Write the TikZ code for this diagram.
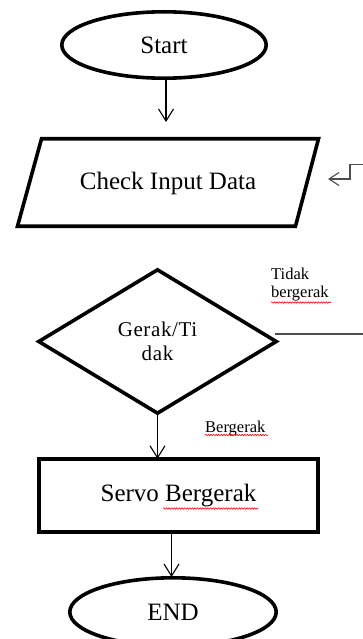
\documentclass[tikz,border=0pt]{standalone}
\usepackage{fontspec}
\setmainfont{Liberation Serif}
\usetikzlibrary{shapes.geometric,arrows.meta,decorations.pathmorphing,calc}
\begin{document}
\begin{tikzpicture}[x=1pt,y=-1pt,
  thickline/.style={line width=3.6pt},
  term/.style={ellipse,draw,thickline,inner sep=0pt,outer sep=0pt,font=\fontsize{25}{28}\selectfont},
  procbox/.style={rectangle,draw,thickline,inner sep=0pt,outer sep=0pt,font=\fontsize{25}{28}\selectfont},
  decbox/.style={diamond,draw,thickline,inner sep=0pt,outer sep=0pt,align=center,
    font=\fontsize{21}{24}\selectfont\addfontfeature{LetterSpace=3}},
  conn/.style={line width=1.1pt,-{Straight Barb[length=12pt,width=15pt]}},
  fbline/.style={line width=1.1pt,black!70,-{Straight Barb[length=10pt,width=13pt]}},
  lbl/.style={font=\fontsize{16.5}{18}\selectfont,align=left,inner sep=0pt},
  squig/.style={red,line width=0.6pt,decorate,decoration={snake,amplitude=0.7pt,segment length=2.6pt}}
]
\useasboundingbox (0,0) rectangle (363,639);
\clip (0,0) rectangle (363,639);

% Start
\node[term,minimum width=204.4pt,minimum height=66.4pt] (start) at (164,45) {Start};
\coordinate (inTop) at (166,122);
\draw[conn] (start.south -| inTop) -- (inTop);

% Input parallelogram
\node[font=\fontsize{25}{28}\selectfont,inner sep=0pt] (input) at (168,183) {Check Input Data};
\draw[thickline,line join=miter] (41.5,138.8) -- (318.5,138.8) -- (295.5,226.2) -- (17.5,226.2) -- cycle;

% Decision
\node[decbox,minimum width=237.4pt,minimum height=143.4pt] (dec) at (157.5,341.5) {Gerak/Ti\\dak};

% Process
\node[procbox,minimum width=279.4pt,minimum height=73.4pt] (proc) at (178.5,495.5) {Servo Bergerak};

% End
\node[term,minimum width=206.4pt,minimum height=68.4pt] (end) at (173,612) {END};

% Connectors
\draw[conn] (dec.south) -- (dec.south |- proc.north);
\draw[conn] (proc.south -| 171.5,0) -- (171.5,577);

% Feedback loop (runs beyond the right edge)
\coordinate (fbEnd) at (328,179);
\draw[fbline] ($(dec.east)+(-1,-7.5)$) -- (395,334) |- (350,164.5) |- (fbEnd);

% Labels
\node[lbl,anchor=north west] (tidak) at (271,268) {Tidak\\bergerak};
\node[lbl,anchor=base west] (gerak) at (205,432) {Bergerak};

% Spell-check squiggles
\draw[squig] (271,302.5) -- (331,302.5);
\draw[squig] (205,435) -- (268,435);
\draw[squig] (163,508.5) -- (258,508.5);
\end{tikzpicture}
\end{document}
